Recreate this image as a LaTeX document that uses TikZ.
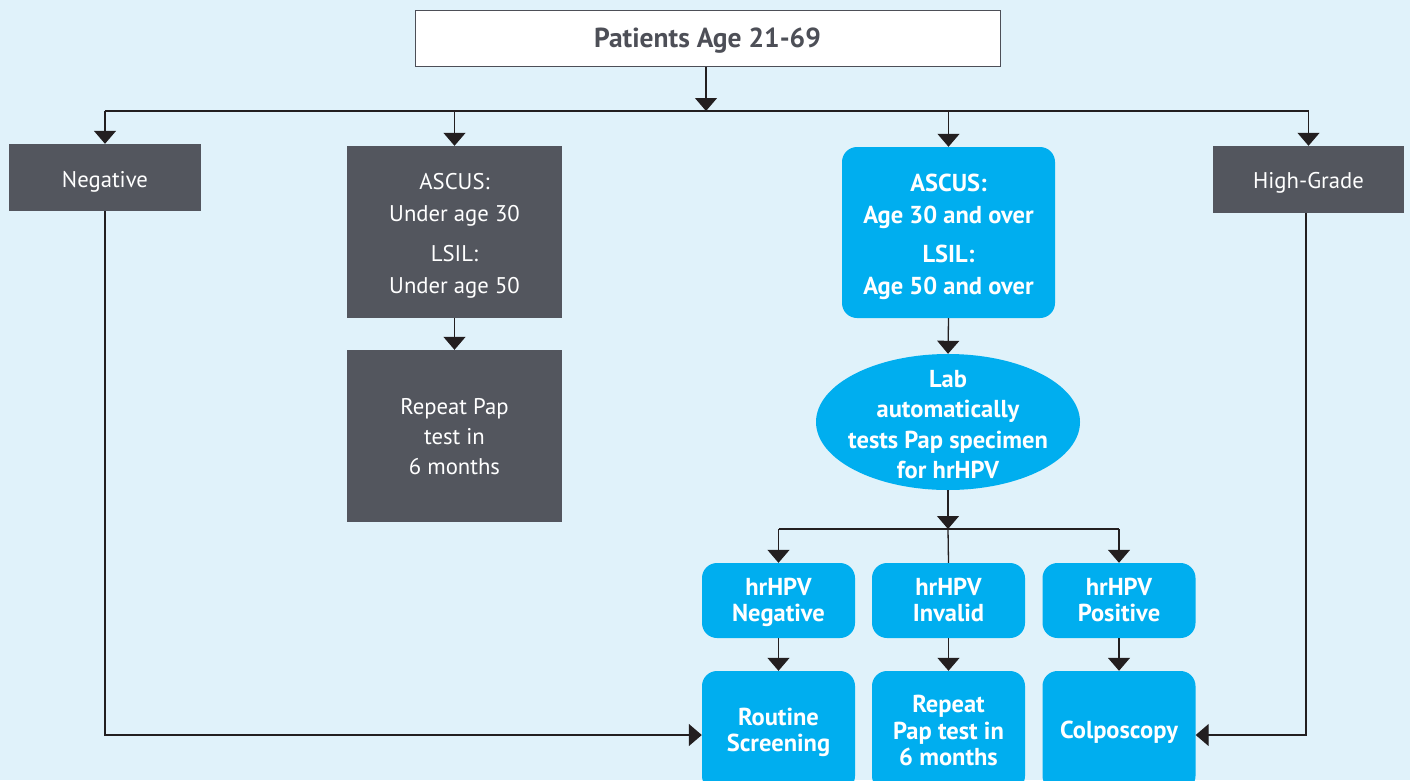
\documentclass[tikz,border=0pt]{standalone}
\usepackage{fontspec}
\setmainfont{PT Sans}
\usetikzlibrary{arrows.meta,shapes.geometric}
\definecolor{bg}{HTML}{E0F2FA}
\definecolor{graybox}{HTML}{53565E}
\definecolor{bluebox}{HTML}{00AEEF}
\definecolor{lineclr}{HTML}{231F20}
\definecolor{titleclr}{HTML}{4D4F57}
\newcommand{\lowtxt}[2][3pt]{\raisebox{-#1}[\height][\depth]{\begin{tabular}{@{}c@{}}#2\end{tabular}}}
\begin{document}
\begin{tikzpicture}[x=1pt,y=-1pt,
  graynode/.style={fill=graybox,text=white,inner sep=0pt,
    font=\fontsize{22.7}{32}\selectfont},
  bluenode/.style={fill=bluebox,text=white,inner sep=0pt,rounded corners=15pt,
    font=\bfseries\fontsize{24.5}{26.5}\selectfont},
  conn/.style={draw=lineclr,line width=1.3pt},
  arr/.style={conn,-{Triangle[width=22pt,length=13pt]}}]
\fill[bg] (0,0) rectangle (1410,780);
\useasboundingbox (0,0) rectangle (1410,780);
\clip (0,0) rectangle (1410,780);
% top
\node[draw=titleclr,line width=1pt,fill=white,minimum width=585pt,minimum height=56pt,inner sep=0pt,
  text=titleclr,font=\bfseries\fontsize{27.5}{30}\selectfont] (top) at (707.5,38) {\lowtxt{Patients Age 21-69}};
% first level
\node[graynode,minimum width=192pt,minimum height=67pt] (neg) at (105,177.5) {\lowtxt[4pt]{Negative}};
\node[graynode,minimum width=215pt,minimum height=172pt] (asc1) at (454.5,232) {\lowtxt[3.5pt]{ASCUS:\\Under age 30\\[8pt]LSIL:\\Under age 50}};
\node[bluenode,minimum width=213pt,minimum height=171pt,font=\bfseries\fontsize{24.5}{31.5}\selectfont] (asc2) at (948.5,232.5) {\lowtxt[4pt]{ASCUS:\\Age 30 and over\\[8pt]LSIL:\\Age 50 and over}};
\node[graynode,minimum width=191pt,minimum height=67pt] (hg) at (1308.5,179.5) {\lowtxt[3pt]{High-Grade}};
% second level
\node[graynode,minimum width=215pt,minimum height=172pt,font=\fontsize{22.7}{30}\selectfont] (rep1) at (454.5,436) {\lowtxt[2.5pt]{Repeat Pap\\test in\\6 months}};
\node[ellipse,fill=bluebox,text=white,inner xsep=-20pt,inner ysep=-30pt,minimum width=264pt,minimum height=136pt,
  font=\bfseries\fontsize{24.5}{30.5}\selectfont] (lab) at (948,422) {\lowtxt[5pt]{Lab\\automatically\\tests Pap specimen\\for hrHPV}};
% hrHPV
\node[bluenode,minimum width=153pt,minimum height=75pt] (hn) at (778.5,600.5) {\lowtxt[2.5pt]{hrHPV\\Negative}};
\node[bluenode,minimum width=153pt,minimum height=75pt] (hi) at (948.5,600.5) {\lowtxt[2.5pt]{hrHPV\\Invalid}};
\node[bluenode,minimum width=153pt,minimum height=75pt] (hp) at (1119,600.5) {\lowtxt[2.5pt]{hrHPV\\Positive}};
% bottom
\node[bluenode,minimum width=153pt,minimum height=120pt] (rs) at (778.5,731) {\lowtxt[2pt]{Routine\\Screening}};
\node[bluenode,minimum width=153pt,minimum height=120pt] (rp) at (948.5,731) {\lowtxt[3pt]{Repeat\\Pap test in\\6 months}};
\node[bluenode,minimum width=153pt,minimum height=120pt] (co) at (1119,731) {\lowtxt[2pt]{Colposcopy}};
% coordinates
\coordinate (bus) at (706,111);
\coordinate (bus2) at (948,529);
\coordinate (negcorner) at (105,735);
\coordinate (hgcorner) at (1306,735);
% connectors
\draw[arr] (top.south -| bus) -- (bus);
\draw[conn] (neg.north |- bus) -- (hg.north |- bus);
\draw[arr] (neg.north |- bus) -- (neg.north);
\draw[arr] (asc1.north |- bus) -- (asc1.north);
\draw[arr] (asc2.north |- bus) -- (asc2.north);
\draw[arr] (hg.north |- bus) -- (hg.north);
\draw[arr] (asc1.south) -- (rep1.north);
\draw[arr] (asc2.south) -- (lab.north);
\draw[arr] (lab.south) -- (bus2);
\draw[conn] (hn.north |- bus2) -- (hp.north |- bus2);
\draw[conn] (bus2) -- (hi.north);
\draw[arr] (hn.north |- bus2) -- (hn.north);
\draw[arr] (hp.north |- bus2) -- (hp.north);
\draw[arr] (hn.south) -- (rs.north);
\draw[arr] (hi.south) -- (rp.north);
\draw[arr] (hp.south) -- (co.north);
\draw[arr] (neg.south -| negcorner) -- (negcorner) -- (rs.west |- negcorner);
\draw[arr] (hg.south -| hgcorner) -- (hgcorner) -- (co.east |- hgcorner);
\end{tikzpicture}
\end{document}
